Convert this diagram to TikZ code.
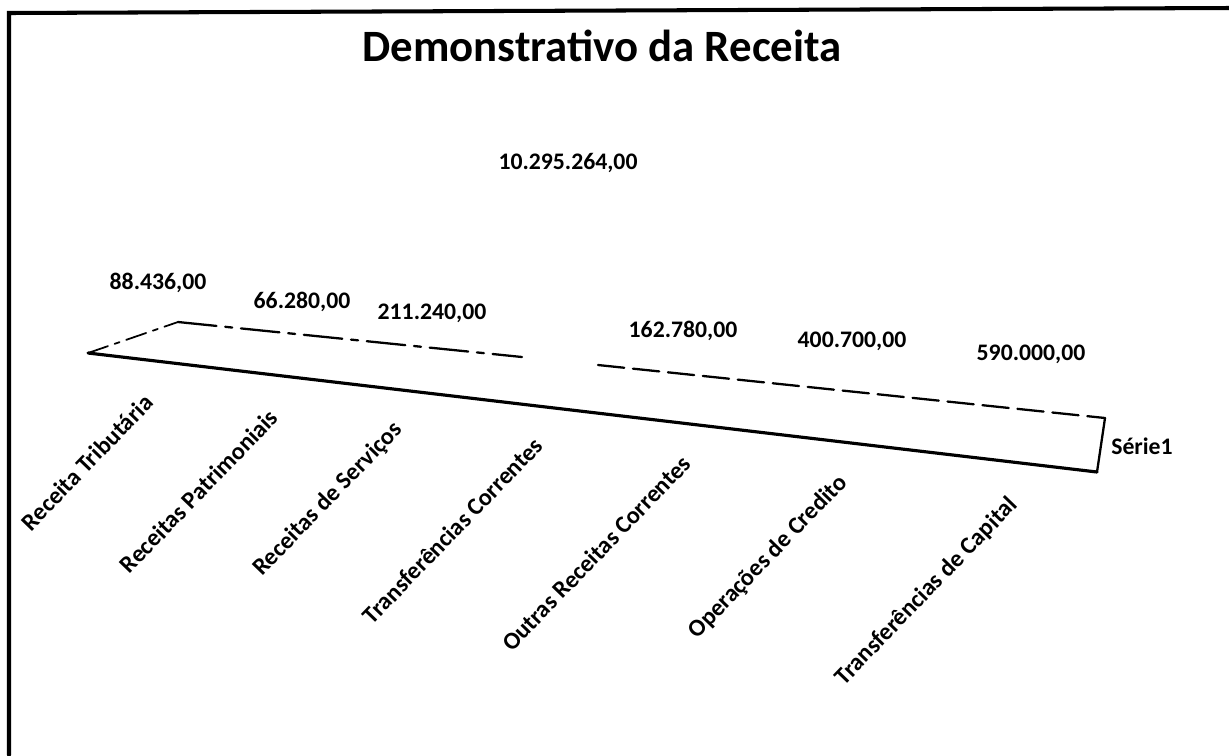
\documentclass[tikz,border=0pt]{standalone}
\usepackage{fontspec}
\setmainfont{Carlito}
\tikzset{
	val/.style={font=\bfseries\fontsize{13.5}{16}\selectfont, inner sep=1pt},
	cat/.style={font=\bfseries\fontsize{13.8}{16}\selectfont, rotate=46, anchor=east, inner sep=1pt},
}
\begin{document}
\begin{tikzpicture}[x=.02cm, y=-.02cm, line cap=round]
	\useasboundingbox (0,0) rectangle (1229,755);
	% frame
	\draw[line width=2.3pt] (9,755)--(9,13)--(1229,8);
	\node[font=\bfseries\fontsize{25.5}{30}\selectfont] (title) at (602,46) {Demonstrativo da Receita};
	% ribbon
	\coordinate (a) at (88,353);
	\coordinate (b) at (178,322);
	\coordinate (g1) at (522,357);
	\coordinate (g2) at (598,365);
	\coordinate (c) at (1105,418);
	\coordinate (d) at (1097,472);
	\draw[line width=1pt, dash pattern=on 12pt off 4pt on 3pt off 4pt] (a)--(b);
	\draw[line width=1.3pt, dash pattern=on 22pt off 5pt on 4pt off 5pt] (b)--(g1);
	\draw[line width=1.3pt, dash pattern=on 15pt off 5pt] (g2)--(c);
	\draw[line width=1.3pt] (c)--(d);
	\draw[line width=1.8pt] (a)--(d);
	% values
	\node[val] (vmax) at (568,163) {10.295.264,00};
	\node[val] (v1) at (158,283) {88.436,00};
	\node[val] (v2) at (302,302) {66.280,00};
	\node[val] (v3) at (432,313) {211.240,00};
	\node[val] (v5) at (683,331) {162.780,00};
	\node[val] (v6) at (852,341) {400.700,00};
	\node[val] (v7) at (1031,354) {590.000,00};
	\node[val] (serie) at (1142,446) {Série1};
	% categories
	\node[cat] (c1) at (150,397) {Receita Tributária};
	\node[cat] (c2) at (275,412) {Receitas Patrimoniais};
	\node[cat] (c3) at (400,425) {Receitas de Serviços};
	\node[cat] (c4) at (540,440) {Transferências Correntes};
	\node[cat] (c5) at (688,458) {Outras Receitas Correntes};
	\node[cat] (c6) at (845,478) {Operações de Credito};
	\node[cat] (c7) at (1015,500) {Transferências de Capital};
\end{tikzpicture}
\end{document}
